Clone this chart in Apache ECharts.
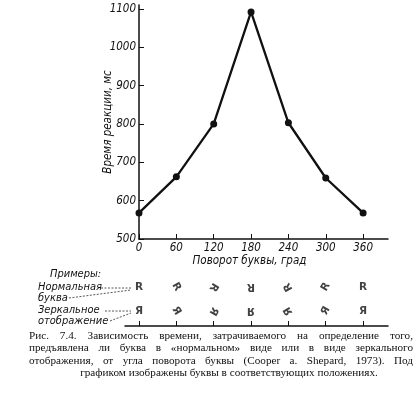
<!DOCTYPE html>
<html>
<head>
<meta charset="utf-8">
<script src="https://cdn.jsdelivr.net/npm/echarts@6/dist/echarts.min.js"></script>
<style>
html,body{margin:0;padding:0;background:#fff;}
#chart{width:417px;height:394px;}
</style>
</head>
<body>
<div id="chart"></div>
<script>
// ---- data ----
const angles = [0, 60, 120, 180, 240, 300, 360];
const reactionTimes = [568, 662, 800, 1092, 803, 659, 568];
const yTicks = [500, 600, 700, 800, 900, 1000, 1100];
const xTicks = [0, 60, 120, 180, 240, 300, 360];
const normalLetter = 'R';
const mirrorLetter = 'Я';
const yName = 'Время реакции, мс';
const xName = 'Поворот буквы, град';
const examplesTitle = 'Примеры:';
const rowLabels = ['Нормальная', 'буква', 'Зеркальное', 'отображение'];
const captionLines = [
  'Рис. 7.4. Зависимость времени, затрачиваемого на определение того,',
  'предъявлена ли буква в «нормальном» виде или в виде зеркального',
  'отображения, от угла поворота буквы (Cooper a. Shepard, 1973). Под',
  'графиком изображены буквы в соответствующих положениях.'
];

// ---- layout helpers ----
const ink = '#111';
const labelFont = "'DejaVu Sans Condensed','Liberation Sans Narrow','Liberation Sans',sans-serif";
const captionFontFamily = "'Liberation Serif','DejaVu Serif',serif";
const captionFontSize = 11.2;
const captionFont = captionFontSize + 'px ' + captionFontFamily;

const canvas = document.createElement('canvas');
const ctx = canvas.getContext('2d');
ctx.font = captionFont;

function captionGraphics() {
  const els = [];
  const left = 29, right = 413, top0 = 336, lh = 12.3;
  captionLines.forEach((line, i) => {
    const y = top0 + i * lh;
    if (i === captionLines.length - 1) {
      els.push({type: 'text', x: 229, y: y,
        style: {text: line, font: captionFont, fill: ink, textAlign: 'center', textVerticalAlign: 'middle'}});
      return;
    }
    const words = line.split(' ');
    const widths = words.map(w => ctx.measureText(w).width);
    const sum = widths.reduce((a, b) => a + b, 0);
    const gap = (right - left - sum) / (words.length - 1);
    let x = left;
    words.forEach((w, k) => {
      els.push({type: 'text', x: x, y: y,
        style: {text: w, font: captionFont, fill: ink, textAlign: 'left', textVerticalAlign: 'middle'}});
      x += widths[k] + gap;
    });
  });
  return els;
}

const sideFont = "italic 11px " + labelFont;
const dash = {stroke: '#444', lineWidth: 0.9, lineDash: [2, 1.5]};
const leftLabelEls = [
  {type: 'text', x: 50, y: 274, style: {text: examplesTitle, font: sideFont, fill: ink, textVerticalAlign: 'middle'}},
  {type: 'text', x: 38, y: 287, style: {text: rowLabels[0], font: sideFont, fill: ink, textVerticalAlign: 'middle'}},
  {type: 'text', x: 38, y: 298, style: {text: rowLabels[1], font: sideFont, fill: ink, textVerticalAlign: 'middle'}},
  {type: 'text', x: 38, y: 310, style: {text: rowLabels[2], font: sideFont, fill: ink, textVerticalAlign: 'middle'}},
  {type: 'text', x: 38, y: 321, style: {text: rowLabels[3], font: sideFont, fill: ink, textVerticalAlign: 'middle'}},
  {type: 'polyline', shape: {points: [[101, 288], [131, 288]]}, style: dash},
  {type: 'polyline', shape: {points: [[69, 298], [131, 290]]}, style: dash},
  {type: 'polyline', shape: {points: [[105, 311], [131, 311]]}, style: dash},
  {type: 'polyline', shape: {points: [[110, 321], [131, 313]]}, style: dash}
];

const chart = echarts.init(document.getElementById('chart'), null, {renderer: 'canvas'});

const axisLabelStyle = {color: ink, fontSize: 11.5, fontStyle: 'italic', fontFamily: labelFont};
const letterLabel = {show: true, position: 'inside', color: ink,
  fontSize: 10.5, fontWeight: 'bold', fontFamily: "'DejaVu Sans','Liberation Sans',sans-serif"};

chart.setOption({
  backgroundColor: '#fff',
  animation: false,
  grid: [
    {left: 139, right: 29, top: 5, bottom: 155},
    {left: 125, right: 29, top: 276, bottom: 68}
  ],
  xAxis: [
    {
      type: 'value', gridIndex: 0, min: 0, max: 400,
      name: xName, nameLocation: 'middle', nameGap: 16, nameMoveOverlap: false,
      nameTextStyle: {color: ink, fontSize: 11.5, fontStyle: 'italic', fontFamily: labelFont, padding: [0, 28, 0, 0]},
      axisLine: {show: true, lineStyle: {color: ink, width: 1.5}},
      axisTick: {show: true, inside: true, length: 5, customValues: xTicks, lineStyle: {color: ink, width: 1}},
      axisLabel: {show: true, margin: 3, customValues: xTicks, ...axisLabelStyle},
      splitLine: {show: false}
    },
    {
      type: 'value', gridIndex: 1, min: -22.4, max: 400,
      axisLine: {show: true, lineStyle: {color: ink, width: 1.5}},
      axisTick: {show: true, inside: true, length: 5, customValues: xTicks, lineStyle: {color: ink, width: 1}},
      axisLabel: {show: false},
      splitLine: {show: false}
    }
  ],
  yAxis: [
    {
      type: 'value', gridIndex: 0, min: 500, max: 1110,
      name: yName, nameLocation: 'middle', nameGap: 25, nameRotate: 90, nameMoveOverlap: false,
      nameTextStyle: {color: ink, fontSize: 11.5, fontStyle: 'italic', fontFamily: labelFont},
      axisLine: {show: true, lineStyle: {color: ink, width: 1.5}},
      axisTick: {show: true, inside: true, length: 5, customValues: yTicks, lineStyle: {color: ink, width: 1}},
      axisLabel: {show: true, margin: 3, customValues: yTicks, ...axisLabelStyle,
        formatter: v => (v % 100 === 0 ? String(v) : '')},
      splitLine: {show: false}
    },
    {
      type: 'value', gridIndex: 1, min: 0, max: 5, show: false
    }
  ],
  series: [
    {
      type: 'line', xAxisIndex: 0, yAxisIndex: 0,
      data: angles.map((a, i) => [a, reactionTimes[i]]),
      symbol: 'circle', symbolSize: 7,
      lineStyle: {color: ink, width: 2.3},
      itemStyle: {color: ink},
      z: 3
    },
    {
      type: 'scatter', xAxisIndex: 1, yAxisIndex: 1,
      symbolSize: 2, itemStyle: {color: 'rgba(0,0,0,0)'},
      data: angles.map(a => ({value: [a, 3.9], label: {rotate: -a}})),
      label: {...letterLabel, formatter: normalLetter},
      silent: true
    },
    {
      type: 'scatter', xAxisIndex: 1, yAxisIndex: 1,
      symbolSize: 2, itemStyle: {color: 'rgba(0,0,0,0)'},
      data: angles.map(a => ({value: [a, 1.5], label: {rotate: -a}})),
      label: {...letterLabel, formatter: mirrorLetter},
      silent: true
    }
  ],
  graphic: leftLabelEls.concat(captionGraphics())
});
</script>
</body>
</html>
